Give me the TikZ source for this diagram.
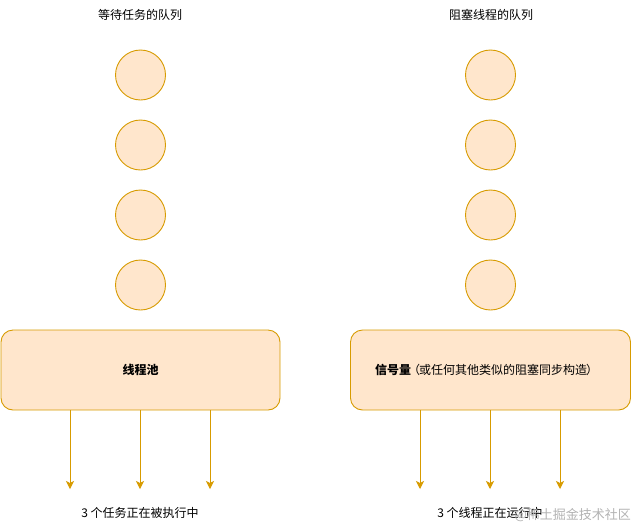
\documentclass[tikz,border=0pt]{standalone}
\usepackage{fontspec}
\setmainfont{Noto Sans CJK SC}
\usetikzlibrary{arrows.meta}
\definecolor{fillc}{HTML}{FFE6CC}
\definecolor{linec}{HTML}{D79B00}
\begin{document}
\begin{tikzpicture}[x=1pt,y=-1pt,
  qitem/.style={circle,draw=linec,fill=fillc,line width=0.9pt,minimum size=50pt,inner sep=0pt},
  poolbox/.style={rectangle,rounded corners=12pt,draw=linec,fill=fillc,line width=0.9pt,minimum width=279pt,minimum height=80pt,inner sep=0pt},
  flow/.style={draw=linec,line width=0.9pt,-{Stealth[length=8pt,width=8pt,inset=2pt]}},
  lbl/.style={font=\fontsize{12pt}{14pt}\selectfont,inner sep=0pt}]
\useasboundingbox (0,0) rectangle (631,528);
\node[lbl] (t1) at (140,15) {等待任务的队列};
\node[lbl] (t2) at (491,15) {阻塞线程的队列};
\foreach \i/\y in {1/75,2/145,3/215,4/285}{
  \node[qitem] (a\i) at (140.5,\y) {};
  \node[qitem] (b\i) at (490.5,\y) {};
}
\node[poolbox] (p1) at (140.5,370) {};
\node[lbl,font=\fontsize{12pt}{14pt}\selectfont\bfseries] at (p1) {线程池};
\node[poolbox,minimum width=280pt] (p2) at (490.5,370) {};
\node[lbl,anchor=west] (p2t) at (375,370) {\textbf{信号量}\hspace{-3pt}（\hspace{-1pt}或任何其他类似的阻塞同步构造\hspace{-1pt}）};
\foreach \x/\n in {70/1,140/2,210/3}{
  \coordinate (e\n) at (\x,489);
  \draw[flow] (\x,410) -- (e\n);
}
\foreach \x/\n in {420/4,490/5,560/6}{
  \coordinate (e\n) at (\x,489);
  \draw[flow] (\x,410) -- (e\n);
}
\node[lbl] (r1) at (140,513) {3 个任务正在被执行中};
\node[lbl] (r2) at (490,513) {3 个线程正在运行中};
\node[lbl,anchor=east,text=black!30,font=\fontsize{13pt}{15pt}\selectfont] (wm) at (631,515) {@稀土掘金技术社区};
\end{tikzpicture}
\end{document}
